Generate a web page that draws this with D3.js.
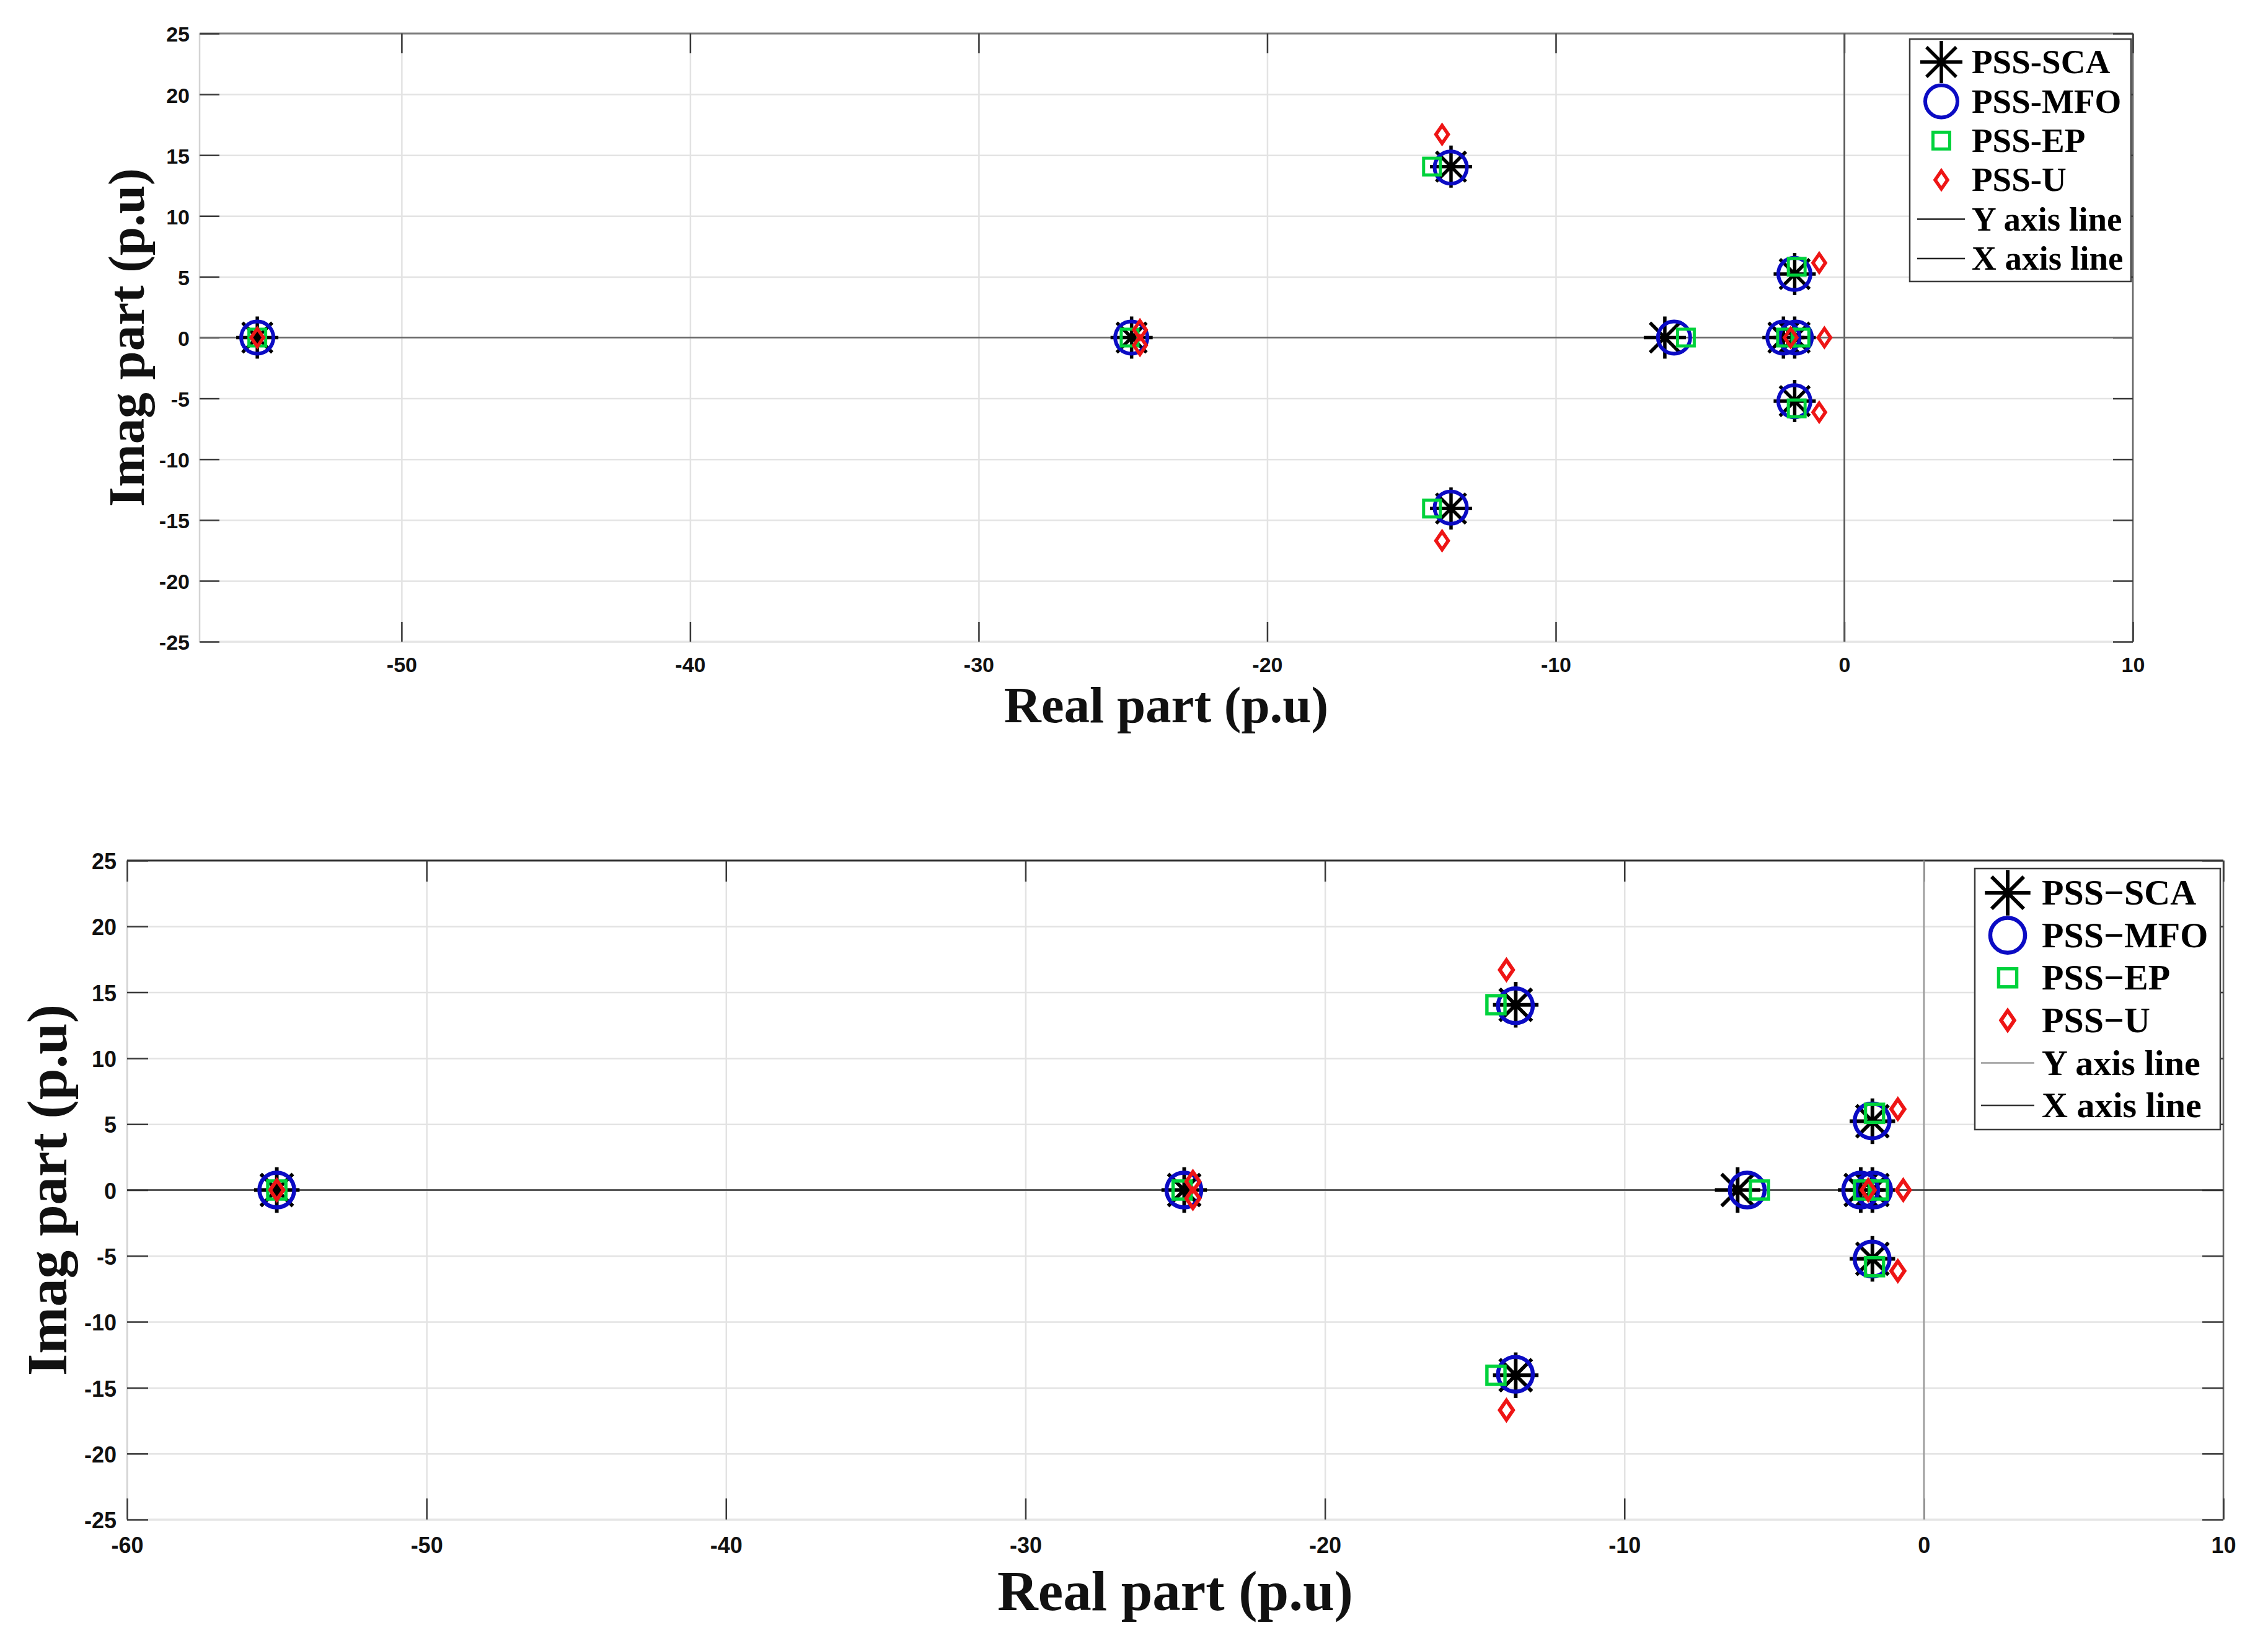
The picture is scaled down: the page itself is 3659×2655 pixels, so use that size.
<!DOCTYPE html>
<html>
<head>
<meta charset="utf-8">
<script src="https://cdn.jsdelivr.net/npm/d3@7"></script>
<style>
body { margin: 0; background: #fff; }
</style>
</head>
<body>
<svg id="fig"></svg>
<script>
// eigenvalues (real / imaginary part, p.u) for each tuned PSS
var scaReal = [-55, -24.70, -13.63, -13.63, -6.22, -2.11, -1.72, -1.72, -1.72];
var scaImag = [0, 0, 14.05, -14.05, 0, 0, 0, 5.22, -5.22];

var mfoReal = [-55, -24.71, -13.64, -13.64, -5.90, -2.11, -1.68, -1.73, -1.73];
var mfoImag = [0, 0, 13.98, -13.98, 0, 0, 0, 5.24, -5.24];

var epReal = [-55, -24.77, -14.29, -14.29, -5.49, -2.02, -1.52, -1.65, -1.65];
var epImag = [0, 0, 14.06, -14.06, 0, 0, 0, 5.82, -5.82];

var uReal = [-55, -24.41, -24.41, -13.94, -13.94, -1.86, -0.69, -0.87, -0.87];
var uImag = [0, 0.64, -0.64, 16.7, -16.7, 0, 0, 6.14, -6.14];

var xTickValues = [-60, -50, -40, -30, -20, -10, 0, 10];
var yTickValues = [-25, -20, -15, -10, -5, 0, 5, 10, 15, 20, 25];

var legendTop = ["PSS-SCA", "PSS-MFO", "PSS-EP", "PSS-U", "Y axis line", "X axis line"];
var legendBottom = ["PSS\u2212SCA", "PSS\u2212MFO", "PSS\u2212EP", "PSS\u2212U", "Y axis line", "X axis line"];

var xTitle = "Real part (p.u)";
var yTitle = "Imag part (p.u)";

var series = [
    { re: scaReal, im: scaImag, shape: "asterisk", color: "#000000" },
    { re: mfoReal, im: mfoImag, shape: "circle", color: "#0b0bc4" },
    { re: epReal, im: epImag, shape: "square", color: "#00d23c" },
    { re: uReal, im: uImag, shape: "diamond", color: "#ee1515" }
];

var W = 3659, H = 2655;
var svg = d3.select("#fig").attr("width", W).attr("height", H);
svg.append("rect").attr("width", W).attr("height", H).attr("fill", "#fff");

var SANS = "'Liberation Sans', Arial, Helvetica, sans-serif";
var SERIF = "'Liberation Serif', 'Times New Roman', Times, serif";

// draws one marker of the given shape centred on (cx, cy), k = size factor
function marker(g, shape, color, cx, cy, k) {
    var p = d3.path();
    if (shape === "asterisk") {
        var r = 34 * k, d = r * 0.7071;
        p.moveTo(cx - r, cy); p.lineTo(cx + r, cy);
        p.moveTo(cx, cy - r); p.lineTo(cx, cy + r);
        p.moveTo(cx - d, cy - d); p.lineTo(cx + d, cy + d);
        p.moveTo(cx - d, cy + d); p.lineTo(cx + d, cy - d);
        g.append("path").attr("d", p.toString()).attr("fill", "none")
            .attr("stroke", color).attr("stroke-width", 5.5 * k);
    } else if (shape === "circle") {
        g.append("circle").attr("cx", cx).attr("cy", cy).attr("r", 26 * k)
            .attr("fill", "none").attr("stroke", color).attr("stroke-width", 6 * k);
    } else if (shape === "square") {
        var s = 13.5 * k;
        g.append("rect").attr("x", cx - s).attr("y", cy - s).attr("width", 2 * s).attr("height", 2 * s)
            .attr("fill", "none").attr("stroke", color).attr("stroke-width", 5 * k);
    } else {
        var a = 10 * k, b = 14.5 * k;
        p.moveTo(cx, cy - b); p.lineTo(cx + a, cy); p.lineTo(cx, cy + b); p.lineTo(cx - a, cy); p.closePath();
        g.append("path").attr("d", p.toString()).attr("fill", "none")
            .attr("stroke", color).attr("stroke-width", 5.5 * k).attr("stroke-linejoin", "miter");
    }
}

function drawPanel(p) {
    var x = d3.scaleLinear().domain([p.xmin, 10]).range([p.left, p.right]);
    var y = d3.scaleLinear().domain([-25, 25]).range([p.bottom, p.top]);
    var w = p.right - p.left, h = p.bottom - p.top;
    var xt = xTickValues.filter(function (v) { return v >= p.xmin; });
    var g = svg.append("g");

    // grid
    g.append("g").attr("transform", "translate(0," + p.bottom + ")")
        .call(d3.axisBottom(x).tickValues(xt).tickSize(-h).tickFormat(""))
        .call(function (s) { s.select(".domain").remove(); })
        .selectAll("line").attr("stroke", "#e3e3e3").attr("stroke-width", 2.5);
    g.append("g").attr("transform", "translate(" + p.left + ",0)")
        .call(d3.axisLeft(y).tickValues(yTickValues).tickSize(-w).tickFormat(""))
        .call(function (s) { s.select(".domain").remove(); })
        .selectAll("line").attr("stroke", "#e3e3e3").attr("stroke-width", 2.5);

    // box: lighter left / bottom, darker top / right
    g.append("line").attr("x1", p.left).attr("x2", p.left).attr("y1", p.top).attr("y2", p.bottom)
        .attr("stroke", "#d4d4d4").attr("stroke-width", 2.5);
    g.append("line").attr("x1", p.left).attr("x2", p.right).attr("y1", p.bottom).attr("y2", p.bottom)
        .attr("stroke", "#e6e6e6").attr("stroke-width", 3);
    g.append("line").attr("x1", p.left).attr("x2", p.right).attr("y1", p.top).attr("y2", p.top)
        .attr("stroke", p.topColor).attr("stroke-width", 3);
    g.append("line").attr("x1", p.right).attr("x2", p.right).attr("y1", p.top).attr("y2", p.bottom)
        .attr("stroke", "#666").attr("stroke-width", 2.5);

    // inward ticks on all four sides
    function styleTicks(s) {
        s.select(".domain").remove();
        s.selectAll("line").attr("stroke", "#3a3a3a").attr("stroke-width", 2.5);
        s.selectAll("text").attr("fill", "#111").attr("font-family", SANS)
            .attr("font-weight", "bold").attr("font-size", p.fs);
    }
    g.append("g").attr("transform", "translate(0," + p.bottom + ")")
        .call(d3.axisBottom(x).tickValues(xt).tickSize(-p.tick).tickPadding(p.xPad)
            .tickFormat(function (d) { return String(d); }))
        .call(styleTicks);
    g.append("g").attr("transform", "translate(0," + p.top + ")")
        .call(d3.axisTop(x).tickValues(xt).tickSize(-p.tick).tickFormat(""))
        .call(styleTicks);
    g.append("g").attr("transform", "translate(" + p.left + ",0)")
        .call(d3.axisLeft(y).tickValues(yTickValues).tickSize(-p.tick).tickPadding(p.yPad)
            .tickFormat(function (d) { return String(d); }))
        .call(styleTicks)
        .selectAll("text").attr("dy", "0.38em");
    g.append("g").attr("transform", "translate(" + p.right + ",0)")
        .call(d3.axisRight(y).tickValues(yTickValues).tickSize(-p.tick).tickFormat(""))
        .call(styleTicks);

    // axis lines through the origin
    g.append("line").attr("x1", x(0)).attr("x2", x(0)).attr("y1", p.top).attr("y2", p.bottom)
        .attr("stroke", p.yLineColor).attr("stroke-width", 2.5);
    g.append("line").attr("x1", p.left).attr("x2", p.right).attr("y1", y(0)).attr("y2", y(0))
        .attr("stroke", p.xLineColor).attr("stroke-width", 2.5);

    // eigenvalues
    series.forEach(function (s) {
        var sg = g.append("g");
        s.re.forEach(function (re, i) {
            marker(sg, s.shape, s.color, x(re), y(s.im[i]), p.ms);
        });
    });

    // legend
    var L = p.legend;
    g.append("rect").attr("x", L.x0).attr("y", L.y0).attr("width", L.x1 - L.x0).attr("height", L.y1 - L.y0)
        .attr("fill", "#fff").attr("stroke", "#3c3c3c").attr("stroke-width", 2.5);
    p.labels.forEach(function (lab, i) {
        var cy = L.row0 + i * L.step;
        if (i < 4) {
            marker(g, series[i].shape, series[i].color, L.mx, cy, p.ms);
        } else {
            g.append("line").attr("x1", L.lx0).attr("x2", L.lx1).attr("y1", cy).attr("y2", cy)
                .attr("stroke", i === 4 ? L.yColor : L.xColor).attr("stroke-width", 2.5);
        }
        g.append("text").attr("x", L.tx).attr("y", cy + L.fs * 0.33)
            .attr("font-family", SERIF).attr("font-weight", "bold").attr("font-size", L.fs)
            .attr("fill", "#000").text(lab);
    });

    // axis titles
    g.append("text").attr("x", (p.left + p.right) / 2).attr("y", p.xTitleY)
        .attr("text-anchor", "middle").attr("font-family", SERIF).attr("font-weight", "bold")
        .attr("font-size", p.titleFs).attr("fill", "#111").text(xTitle);
    g.append("text").attr("transform", "translate(" + p.yTitleX + "," + ((p.top + p.bottom) / 2) + ") rotate(-90)")
        .attr("text-anchor", "middle").attr("font-family", SERIF).attr("font-weight", "bold")
        .attr("font-size", p.titleFs).attr("fill", "#111").text(yTitle);
}

drawPanel({
    left: 322, right: 3441, top: 54, bottom: 1035, xmin: -57,
    fs: 34, tick: 32, xPad: 25, yPad: 16, ms: 1,
    topColor: "#808080", yLineColor: "#555", xLineColor: "#666",
    titleFs: 83, xTitleY: 1165, yTitleX: 232,
    labels: legendTop,
    legend: { x0: 3081, y0: 63, x1: 3438, y1: 454, row0: 100, step: 63.4,
              mx: 3132, tx: 3181, lx0: 3093, lx1: 3170, fs: 55, yColor: "#222", xColor: "#222" }
});

drawPanel({
    left: 205, right: 3587, top: 1388, bottom: 2451, xmin: -60,
    fs: 36, tick: 34, xPad: 28, yPad: 17, ms: 1.08,
    topColor: "#333", yLineColor: "#9a9a9a", xLineColor: "#333",
    titleFs: 91, xTitleY: 2597, yTitleX: 107,
    labels: legendBottom,
    legend: { x0: 3186, y0: 1401, x1: 3582, y1: 1822, row0: 1440, step: 68.6,
              mx: 3239, tx: 3294, lx0: 3196, lx1: 3282, fs: 58, yColor: "#9a9a9a", xColor: "#333" }
});
</script>
</body>
</html>
